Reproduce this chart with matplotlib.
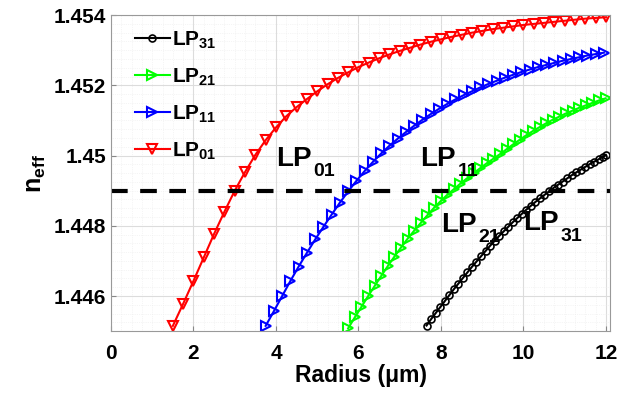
import numpy as np
import matplotlib
matplotlib.use('Agg')
import matplotlib.pyplot as plt
from matplotlib.ticker import MultipleLocator

plt.rcParams['font.family'] = ['Liberation Sans', 'DejaVu Sans']
plt.rcParams['font.weight'] = 'bold'
plt.rcParams['mathtext.fontset'] = 'custom'
plt.rcParams['mathtext.rm'] = 'Liberation Sans:bold'
plt.rcParams['mathtext.bf'] = 'Liberation Sans:bold'
plt.rcParams['mathtext.it'] = 'Liberation Sans:bold'

# LP01 mode (red)
r01 = [1.50, 1.75, 2.00, 2.25, 2.50, 2.75, 3.00, 3.25, 3.50, 3.75, 4.00, 4.25, 4.50, 4.75,
       5.00, 5.25, 5.50, 5.75, 6.00, 6.25, 6.50, 6.75, 7.00, 7.25, 7.50, 7.75, 8.00, 8.25,
       8.50, 8.75, 9.00, 9.25, 9.50, 9.75, 10.00, 10.25, 10.50, 10.75, 11.00, 11.25, 11.50,
       11.75, 12.00]
n01 = [1.44515, 1.44578, 1.44643, 1.44710, 1.44777, 1.44840, 1.44900, 1.44953, 1.45002,
       1.45044, 1.45080, 1.45112, 1.45138, 1.45161, 1.45183, 1.45203, 1.45221, 1.45237,
       1.45252, 1.45265, 1.45277, 1.45288, 1.45298, 1.45307, 1.45316, 1.45324, 1.45331,
       1.45338, 1.45344, 1.45350, 1.45355, 1.45360, 1.45364, 1.45368, 1.45372, 1.45375,
       1.45378, 1.45381, 1.45384, 1.45387, 1.45390, 1.45392, 1.45394]

# LP11 mode (blue)
r11 = [3.75, 3.95, 4.15, 4.35, 4.55, 4.75, 4.95, 5.15, 5.35, 5.55, 5.75, 5.95, 6.15, 6.35,
       6.55, 6.75, 6.95, 7.15, 7.35, 7.55, 7.75, 7.95, 8.15, 8.35, 8.55, 8.75, 8.95, 9.15,
       9.35, 9.55, 9.75, 9.95, 10.15, 10.35, 10.55, 10.75, 10.95, 11.15, 11.35, 11.55,
       11.75, 11.95]
n11 = [1.44515, 1.44557, 1.44600, 1.44643, 1.44684, 1.44723, 1.44761, 1.44797, 1.44832,
       1.44866, 1.44898, 1.44928, 1.44956, 1.44982, 1.45006, 1.45028, 1.45048, 1.45067,
       1.45085, 1.45102, 1.45118, 1.45133, 1.45147, 1.45160, 1.45172, 1.45183, 1.45194,
       1.45204, 1.45213, 1.45222, 1.45230, 1.45238, 1.45245, 1.45252, 1.45258, 1.45264,
       1.45270, 1.45275, 1.45280, 1.45285, 1.45289, 1.45293]

# LP21 mode (green)
r21 = [5.75, 5.91, 6.07, 6.23, 6.39, 6.55, 6.71, 6.87, 7.03, 7.19, 7.35, 7.51, 7.67, 7.83,
       7.99, 8.15, 8.31, 8.47, 8.63, 8.79, 8.95, 9.11, 9.27, 9.43, 9.59, 9.75, 9.91, 10.07,
       10.23, 10.39, 10.55, 10.71, 10.87, 11.03, 11.19, 11.35, 11.51, 11.67, 11.83, 11.99]
n21 = [1.44508, 1.44539, 1.44569, 1.44599, 1.44628, 1.44657, 1.44685, 1.44712, 1.44738,
       1.44763, 1.44786, 1.44808, 1.44830, 1.44851, 1.44870, 1.44888, 1.44904, 1.44920,
       1.44935, 1.44950, 1.44964, 1.44978, 1.44991, 1.45004, 1.45018, 1.45032, 1.45045,
       1.45058, 1.45070, 1.45081, 1.45092, 1.45102, 1.45111, 1.45120, 1.45128, 1.45136,
       1.45143, 1.45150, 1.45157, 1.45163]

# LP31 mode (black)
r31 = [7.65, 7.76, 7.87, 7.98, 8.09, 8.20, 8.31, 8.42, 8.53, 8.64, 8.75, 8.86, 8.97, 9.08,
       9.19, 9.30, 9.41, 9.52, 9.63, 9.74, 9.85, 9.96, 10.07, 10.18, 10.29, 10.40, 10.51,
       10.62, 10.73, 10.84, 10.95, 11.06, 11.17, 11.28, 11.39, 11.50, 11.61, 11.72, 11.83,
       11.94, 12.00]
n31 = [1.44516, 1.44534, 1.44551, 1.44568, 1.44585, 1.44602, 1.44619, 1.44635, 1.44651,
       1.44667, 1.44683, 1.44698, 1.44713, 1.44728, 1.44743, 1.44757, 1.44771, 1.44784,
       1.44797, 1.44810, 1.44822, 1.44834, 1.44846, 1.44857, 1.44868, 1.44878, 1.44888,
       1.44898, 1.44908, 1.44917, 1.44926, 1.44935, 1.44944, 1.44952, 1.44960, 1.44968,
       1.44976, 1.44983, 1.44990, 1.44997, 1.45001]

n_cut = 1.449
xticks = [0, 2, 4, 6, 8, 10, 12]
yticks = [1.446, 1.448, 1.450, 1.452, 1.454]
ytick_labels = ['1.446', '1.448', '1.45', '1.452', '1.454']

# mode label positions: (subscript, radius, n_eff)
mode_labels = [('01', 4.0, 1.4497), ('11', 7.5, 1.4497), ('21', 8.0, 1.44782), ('31', 10.0, 1.44787)]

fig = plt.figure(figsize=(6.2, 3.98), dpi=100)
ax = fig.add_axes([0.179, 0.168, 0.805, 0.794])

ax.plot(r31, n31, color='k', marker='o', ms=5, mfc='none', mew=1.2, lw=1.5, label=r'$\mathbf{LP_{31}}$')
ax.plot(r21, n21, color=(0, 1, 0), marker='>', ms=7, mfc='none', mew=1.5, lw=1.5, label=r'$\mathbf{LP_{21}}$')
ax.plot(r11, n11, color=(0, 0, 1), marker='>', ms=7, mfc='none', mew=1.5, lw=1.5, label=r'$\mathbf{LP_{11}}$')
ax.plot(r01, n01, color=(1, 0, 0), marker='v', ms=7, mfc='none', mew=1.5, lw=1.5, label=r'$\mathbf{LP_{01}}$')
ax.axhline(n_cut, color='k', ls=(0, (4, 3)), lw=3)

ax.set_xlim(0, 12.1)
ax.set_ylim(1.445, 1.454)
ax.set_xticks(xticks)
ax.set_yticks(yticks)
ax.set_yticklabels(ytick_labels)
ax.xaxis.set_minor_locator(MultipleLocator(0.25))
ax.yaxis.set_minor_locator(MultipleLocator(0.00025))
ax.grid(which='major', color='#dcdcdc', lw=0.8)
ax.grid(which='minor', color='#ececec', lw=0.5, ls=':')
ax.set_axisbelow(True)
ax.tick_params(which='both', direction='in', labelsize=15, color='#888888')
ax.tick_params(axis='x', pad=9)
ax.tick_params(which='minor', length=0)
for s in ax.spines.values():
    s.set_color('#999999')

ax.set_xlabel('Radius (μm)', fontsize=16.5, fontweight='bold', labelpad=1)
ax.set_ylabel(r'$\mathbf{n_{eff}}$', fontsize=18, labelpad=4)

# mode labels with dropped subscripts
for sub, xr, yn in mode_labels:
    t = ax.text(xr, yn, 'LP', fontsize=20, fontweight='bold')
    ax.annotate(sub, xy=(1, 0), xycoords=t, xytext=(1, -6), textcoords='offset points',
                fontsize=14, fontweight='bold', va='bottom')

leg = ax.legend(loc='upper left', bbox_to_anchor=(0.018, 1.0), frameon=False, fontsize=15,
                handlelength=1.7, handletextpad=0.1, labelspacing=0.75, borderaxespad=0.3)

fig.savefig('out.png', dpi=100)
